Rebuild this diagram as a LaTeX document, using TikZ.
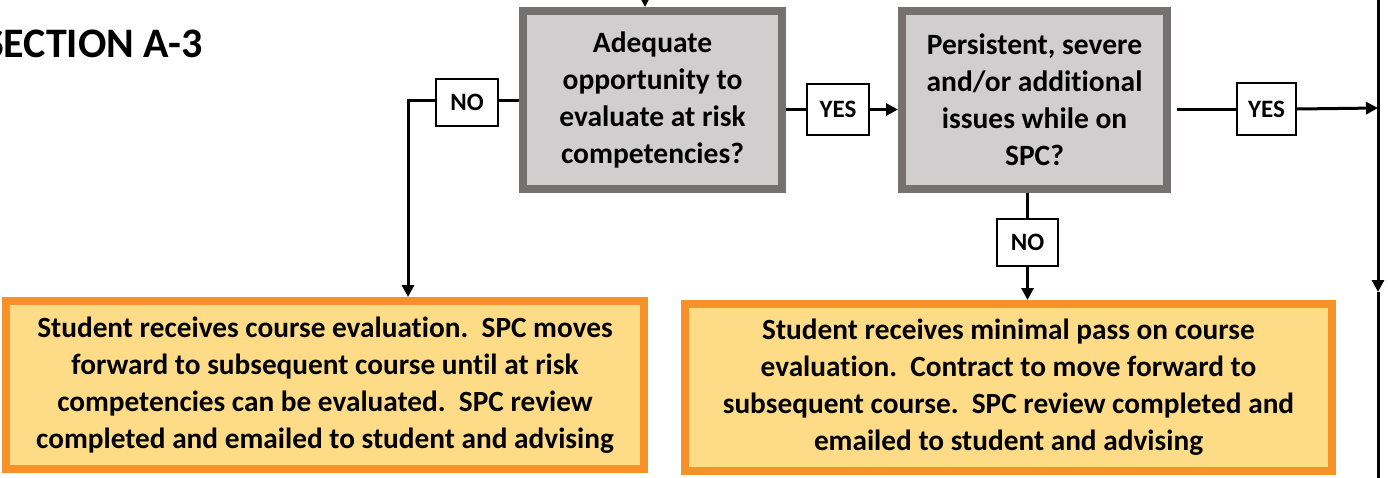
\documentclass[tikz,border=0pt]{standalone}
\usepackage{fontspec}
\setmainfont{Carlito}[Ligatures={NoCommon}]
\usetikzlibrary{arrows.meta,calc}
\definecolor{greyfill}{HTML}{D0CECE}
\definecolor{greyline}{HTML}{767171}
\definecolor{orfill}{HTML}{FDDB87}
\definecolor{orline}{HTML}{F7922A}
\tikzset{
  x=1pt, y=-1pt,
  qbox/.style={draw=greyline, line width=8pt, fill=greyfill, outer sep=4pt, inner sep=0pt,
    align=center, font=\fontsize{29.5}{37}\selectfont\bfseries},
  obox/.style={draw=orline, line width=8pt, fill=orfill, outer sep=4pt, inner sep=0pt,
    align=center, font=\fontsize{29.3}{37}\selectfont\bfseries},
  lbl/.style={draw=black, line width=1.6pt, fill=white, outer sep=0.8pt, inner sep=0pt,
    font=\fontsize{25}{28}\selectfont\bfseries},
  conn/.style={draw=black, line width=3pt},
  arr/.style={conn, -{Triangle[length=12pt,width=12pt]}},
}
\begin{document}
\begin{tikzpicture}
\useasboundingbox (0,0) rectangle (1388,477);
\clip (0,0) rectangle (1388,477);

\node[anchor=base east, font=\fontsize{42}{48}\selectfont\bfseries, inner sep=0pt] (title) at (203,57) {SECTION A-3};

\node[qbox, minimum width=259pt, minimum height=178pt] (box1) at (652.5,100)
  {Adequate\\opportunity to\\evaluate at risk\\competencies?};
\node[qbox, minimum width=265pt, minimum height=178pt] (box2) at (1034.5,100)
  {Persistent, severe\\and/or additional\\issues while on\\SPC?};

\node[obox, minimum width=638pt, minimum height=168pt] (oA) at (325,385)
  {Student receives course evaluation.\ \ SPC moves\\forward to subsequent course until at risk\\competencies can be evaluated.\ \ SPC review\\completed and emailed to student and advising};
\node[obox, minimum width=647pt, minimum height=167pt] (oB) at (1008.5,387.5)
  {Student receives minimal pass on course\\evaluation.\ \ Contract to move forward to\\subsequent course.\ \ SPC review completed and\\emailed to student and advising};

\node[lbl, minimum width=62pt, minimum height=47pt] (no1) at (467,102.5) {NO};
\node[lbl, minimum width=62pt, minimum height=51pt] (yes1) at (838,109.5) {YES};
\node[lbl, minimum width=59pt, minimum height=52pt] (yes2) at (1266.5,109) {YES};
\node[lbl, minimum width=61pt, minimum height=47pt] (no2) at (1027.5,242.5) {NO};

\coordinate (topin) at (645,-30);
\coordinate (vtop) at (1378,-10);
\coordinate (vmid) at (1378,292);
\coordinate (vbot) at (1378,490);
\coordinate (yes2tip) at (1378,108);

% incoming arrow at top
\draw[arr] (topin) -- (topin |- box1.north);
% NO branch from box1
\draw[conn] (box1.west) -- (no1.east |- box1.west);
\draw[arr] (no1.west |- box1.west) -| ($(oA.north)+(83,0)$);
% YES branch from box1
\draw[conn] (box1.east |- yes1.west) -- (yes1.west);
\draw[arr] (yes1.east) -- (box2.west |- yes1.east);
% YES branch from box2
\draw[conn] ($(box2.east |- yes2.west)+(6,0)$) -- (yes2.west);
\draw[arr] (yes2.east) -- (yes2tip);
% NO branch from box2
\draw[conn] (box2.south -| no2) -- (no2.north);
\draw[arr] (no2.south) -- (no2.south |- oB.north);
% right vertical line
\draw[arr] (vtop) -- (vmid);
\draw[conn] (vmid) -- (vbot);
\end{tikzpicture}
\end{document}
